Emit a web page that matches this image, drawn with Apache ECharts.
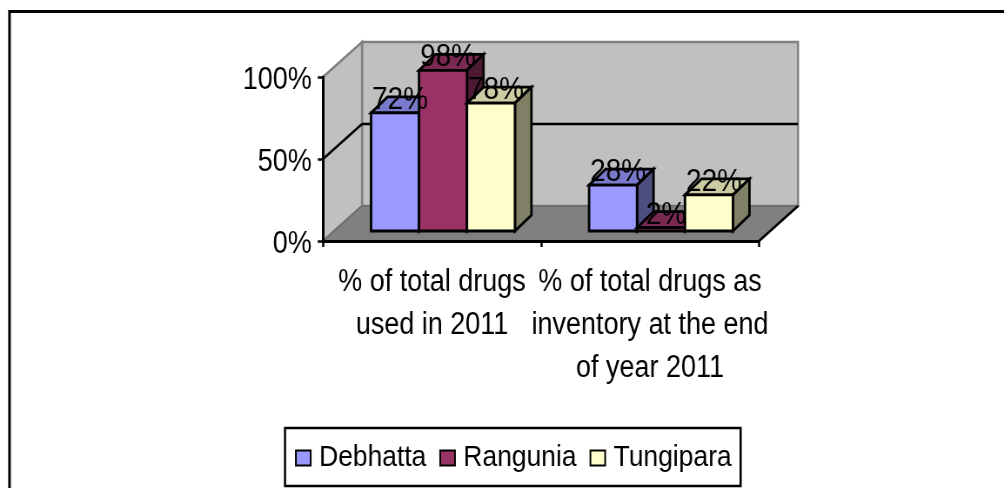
<!DOCTYPE html>
<html><head><meta charset="utf-8">
<style>html,body{margin:0;padding:0;background:#fff;overflow:hidden;width:1004px;height:488px}
#c{width:1154px;height:488px;transform:scaleX(0.87);transform-origin:0 0}</style>
<script src="https://cdn.jsdelivr.net/npm/echarts@6/dist/echarts.min.js"></script>
</head><body><div id="c"></div>
<script>
var categories = ['% of total drugs\nused in 2011', '% of total drugs as\ninventory at the end\nof year 2011'];
var seriesNames = ['Debhatta', 'Rangunia', 'Tungipara'];
var debhatta = [72, 28];
var rangunia = [98, 2];
var tungipara = [78, 22];
var yTicks = [0, 50, 100];

var FONT = '"Liberation Sans",Arial,sans-serif';
var S = 0.87;                // the reference is squeezed horizontally; the page squeezes the whole chart the same way
function X(px) { return px / S; }
var chart = echarts.init(document.getElementById('c'));
var DX = X(39), DY = 35;     // wall depth
var BOX = X(11), BOY = 10;   // bar front-plane offset
var BDX = X(16.5), BDY = 16; // bar depth
var BARFRAC = 0.22;

function poly(points, fill, stroke, lw, z2) {
  return {type: 'polygon', z2: z2 || 0, shape: {points: points},
    style: {fill: fill, stroke: stroke, lineWidth: lw, lineJoin: 'miter'}};
}
function line(p, q, stroke, lw, z2) {
  return {type: 'line', z2: z2 || 1, shape: {x1: p[0], y1: p[1], x2: q[0], y2: q[1]},
    style: {stroke: stroke, lineWidth: lw, lineCap: 'butt'}};
}
function frameItem(params, api) {
  var cs = params.coordSys;
  var l = cs.x, r = cs.x + cs.width;
  var y0 = api.coord([0, yTicks[0]])[1], y1 = api.coord([0, yTicks[1]])[1], y2 = api.coord([0, yTicks[2]])[1];
  var g = '#808080', children = [];
  children.push(poly([[l + DX, y2 - DY], [r + DX, y2 - DY], [r + DX, y0 - DY], [l + DX, y0 - DY]], '#C0C0C0', g, 2.5));
  children.push(poly([[l, y2], [l + DX, y2 - DY], [l + DX, y0 - DY], [l, y0]], '#C0C0C0', g, 2.5));
  children.push(poly([[l, y0], [l + DX, y0 - DY], [r + DX, y0 - DY], [r, y0]], '#808080', '#707070', 2));
  children.push(line([l, y1], [l + DX, y1 - DY], '#000', 2.5));
  children.push(line([l + DX, y1 - DY], [r + DX, y1 - DY], '#000', 2.5));
  children.push(line([r, y0], [r + DX, y0 - DY], '#000', 2.5));
  return {type: 'group', children: children};
}
function barRenderer(idx, front, top, side) {
  return function (params, api) {
    var c = api.value(0), v = api.value(1);
    var band = api.size([1, 0])[0], w = band * BARFRAC;
    var center = api.coord([c, 0])[0];
    var xL = center - 1.5 * w + idx * w + BOX, xR = xL + w;
    var yB = api.coord([c, 0])[1] - BOY, yT = api.coord([c, v])[1] - BOY;
    var k = '#000', lw = 2.8;
    return {type: 'group', children: [
      poly([[xL, yT], [xL + BDX, yT - BDY], [xR + BDX, yT - BDY], [xR, yT]], top, k, lw, 2),
      poly([[xR, yT], [xR + BDX, yT - BDY], [xR + BDX, yB - BDY], [xR, yB]], side, k, lw, 2),
      poly([[xL, yT], [xR, yT], [xR, yB], [xL, yB]], front, k, lw, 2),
      {type: 'text', z2: 50, style: {text: v + '%', x: (xL + xR) / 2 + X(5), y: yT - 13,
        align: 'center', verticalAlign: 'middle', fill: '#000', font: '32px ' + FONT}}
    ]};
  };
}
function barSeries(name, values, idx, front, top, side) {
  return {type: 'custom', name: name, coordinateSystem: 'cartesian2d', z: 2,
    itemStyle: {color: front, borderColor: '#000', borderWidth: 2.5},
    data: values.map(function (v, i) { return [i, v]; }),
    encode: {x: 0, y: 1},
    renderItem: barRenderer(idx, front, top, side)};
}
chart.setOption({
  animation: false,
  backgroundColor: '#fff',
  graphic: [{type: 'rect', z: -1, shape: {x: X(9.5), y: 11.5, width: 1300, height: 600},
    style: {fill: '#fff', stroke: '#000', lineWidth: 3}}],
  grid: {left: X(323), top: 77, width: X(436), height: 164},
  xAxis: {type: 'category', data: categories, z: 5,
    axisLine: {lineStyle: {color: '#000', width: 3}},
    axisTick: {show: true, length: 6, lineStyle: {color: '#000', width: 2.5}},
    axisLabel: {interval: 0, margin: 20, color: '#000', fontFamily: FONT, fontSize: 31, lineHeight: 43}},
  yAxis: {type: 'value', min: 0, max: 100, interval: 50, z: 5,
    splitLine: {show: false},
    axisLine: {show: true, lineStyle: {color: '#000', width: 3}},
    axisTick: {show: true, length: 6, lineStyle: {color: '#000', width: 2.5}},
    axisLabel: {formatter: '{value}%', margin: 13, color: '#000', fontFamily: FONT, fontSize: 31,
      verticalAlign: 'top', lineHeight: 6}},
  legend: {data: seriesNames, left: X(285), top: 428, orient: 'horizontal', icon: 'rect',
    padding: [15, X(9), 13, X(10)], itemGap: X(13), itemWidth: 17, itemHeight: 15,
    backgroundColor: '#fff', borderColor: '#000', borderWidth: 2.5,
    textStyle: {color: '#000', fontFamily: FONT, fontSize: 30.4, padding: [2, 0, 0, X(4)]}},
  series: [
    {type: 'custom', coordinateSystem: 'cartesian2d', z: 1, silent: true,
      data: [[0, 0]], encode: {x: 0, y: 1}, renderItem: frameItem},
    barSeries(seriesNames[0], debhatta, 0, '#9999FF', '#7A7ACC', '#4D4D80'),
    barSeries(seriesNames[1], rangunia, 1, '#993366', '#7A2952', '#4D1A33'),
    barSeries(seriesNames[2], tungipara, 2, '#FFFFCC', '#CCCCA3', '#808066')
  ]
});
</script></body></html>
